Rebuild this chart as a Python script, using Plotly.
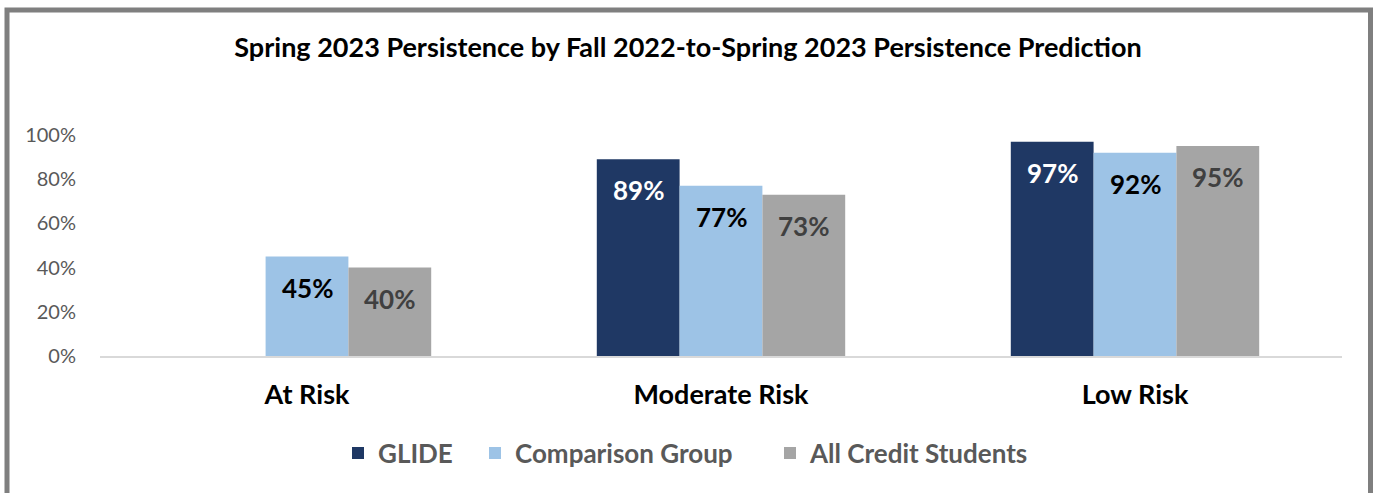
import plotly.graph_objects as go

categories = ["At Risk", "Moderate Risk", "Low Risk"]
glide = [None, 0.89, 0.97]
comparison = [0.45, 0.77, 0.92]
all_credit = [0.40, 0.73, 0.95]
y_ticks = [0, 0.2, 0.4, 0.6, 0.8, 1.0]
y_tick_labels = ["0%", "20%", "40%", "60%", "80%", "100%"]

FONT = "Lato"

series = [
    ("GLIDE", glide, "#1F3864", "#FFFFFF"),
    ("Comparison Group", comparison, "#9DC3E6", "#000000"),
    ("All Credit Students", all_credit, "#A5A5A5", "#404040"),
]

L, R, T, B = 100, 33, 135, 137
W, H = 1375, 493
pw, ph = W - L - R, H - T - B

def px(x):
    return (x - L) / pw

def py(y):
    return (H - B - y) / ph

BARGAP = 0.4
n = len(series)
bw = (1 - BARGAP) / n
legend_names = ["legend", "legend2", "legend3"]
legend_text_x = [378, 515, 810]

fig = go.Figure()
annotations = []
legend_layouts = {}
for j, (name, vals, color, tcolor) in enumerate(series):
    fig.add_trace(go.Bar(
        name=name, x=categories, y=vals,
        marker=dict(color=color, line=dict(width=0)),
        hoverinfo="skip", legend=legend_names[j],
    ))
    legend_layouts[legend_names[j]] = dict(
        orientation="h", x=px(legend_text_x[j] - 40), xanchor="left",
        y=py(453), yanchor="middle",
        font=dict(family=FONT, size=26, color="#595959", weight="bold"),
        itemwidth=30, itemclick=False, bgcolor="rgba(0,0,0,0)",
    )
    for i, v in enumerate(vals):
        if v is None:
            continue
        annotations.append(dict(
            x=i + (j - (n - 1) / 2) * bw, y=v, xref="x", yref="y",
            text=f"<b>{round(v * 100)}%</b>", showarrow=False,
            yanchor="top", yshift=-13,
            font=dict(family=FONT, size=26, color=tcolor),
        ))

fig.add_shape(type="rect", xref="paper", yref="paper",
              x0=px(7), x1=px(1370.5), y0=py(510), y1=py(10),
              line=dict(color="#7F7F7F", width=5), fillcolor="rgba(0,0,0,0)",
              layer="above")

fig.update_layout(
    width=W, height=H,
    margin=dict(l=L, r=R, t=T, b=B),
    paper_bgcolor="white", plot_bgcolor="white",
    barmode="group", bargap=BARGAP, bargroupgap=0,
    annotations=annotations,
    title=dict(text="<b>Spring 2023 Persistence by Fall 2022-to-Spring 2023 Persistence Prediction</b>",
               x=px(688), xanchor="center", xref="paper", y=1 - 48 / H, yanchor="middle",
               font=dict(family=FONT, size=27, color="#000000")),
    xaxis=dict(showline=True, linecolor="#D9D9D9", linewidth=2, ticks="",
               tickfont=dict(family=FONT, size=27, color="#000000", weight="bold"),
               ticklabelstandoff=14, showgrid=False, zeroline=False, fixedrange=True,
               range=[-0.5, 2.5]),
    yaxis=dict(range=[0, 1.0], tickvals=y_ticks, ticktext=y_tick_labels,
               tickfont=dict(family=FONT, size=20, color="#595959"),
               showgrid=False, zeroline=False, showline=False, ticks="",
               ticklabelstandoff=23),
    showlegend=True,
    **legend_layouts,
)

fig.write_html("out.html")
